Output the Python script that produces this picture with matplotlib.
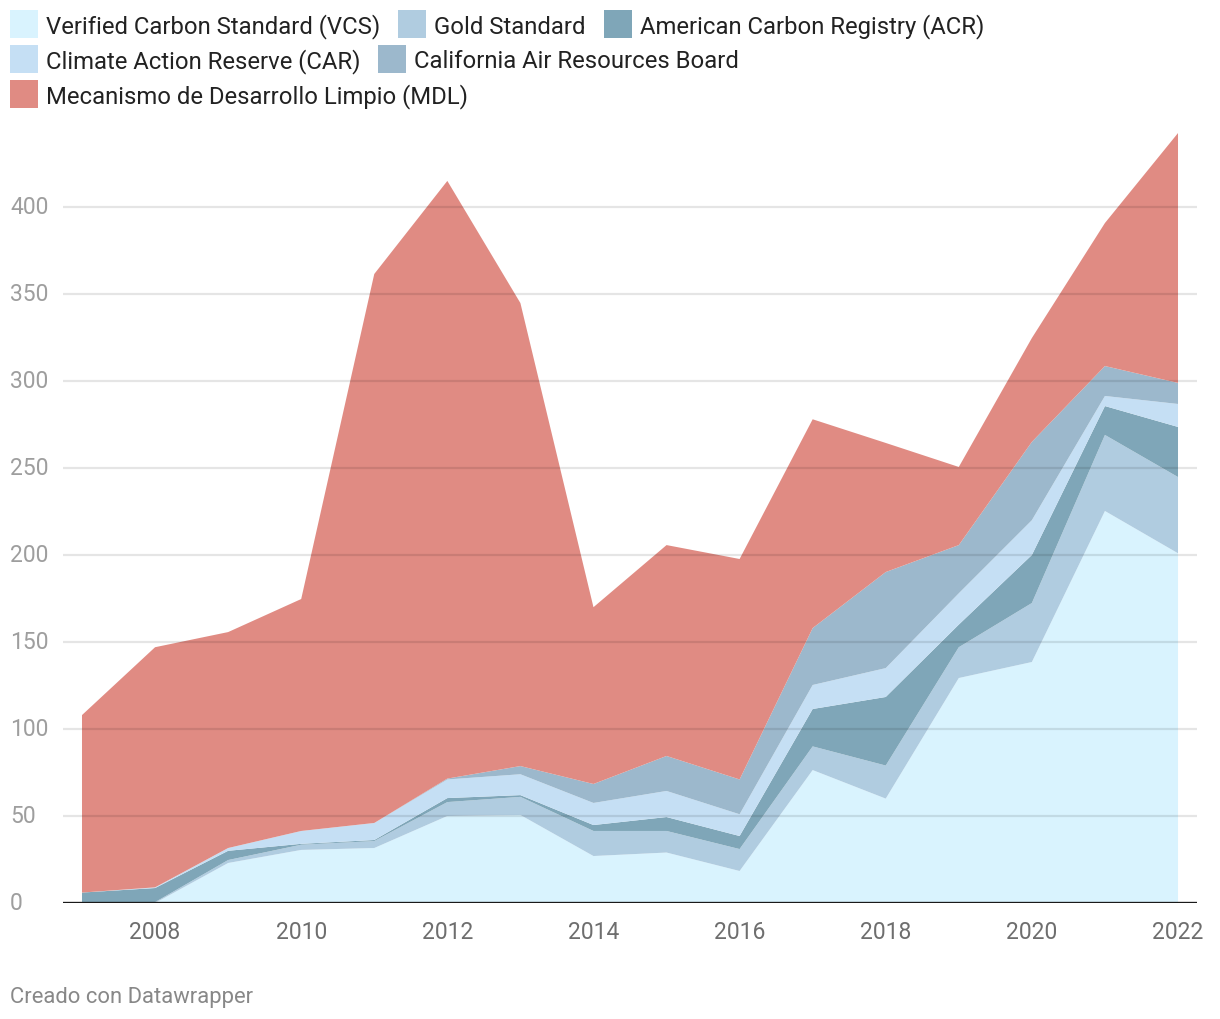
import matplotlib
matplotlib.use("Agg")
import matplotlib.pyplot as plt
import matplotlib.transforms as mtransforms
from matplotlib.patches import Rectangle
import numpy as np

plt.rcParams['font.family'] = ['Roboto', 'DejaVu Sans']

years = list(range(2007, 2023))
series_names = [
    "Verified Carbon Standard (VCS)",
    "Gold Standard",
    "American Carbon Registry (ACR)",
    "Climate Action Reserve (CAR)",
    "California Air Resources Board",
    "Mecanismo de Desarrollo Limpio (MDL)",
]
vcs = [0, 0, 23, 30.5, 31.6, 50, 50.6, 27, 29, 18.4, 76.4, 60, 129.3, 138.5, 225.3, 201]
gold = [0, 0.5, 1.7, 3, 4, 8, 10.4, 14.4, 12.4, 12.6, 13.6, 19, 17.7, 33.9, 43.7, 43.8]
acr = [6, 8.1, 5.3, 0.5, 0.6, 2.3, 1, 3.4, 8, 7.5, 21.5, 39.4, 13, 27.6, 16.6, 28.8]
car = [0, 0.4, 1.6, 7.4, 9.8, 10.7, 12, 12.7, 15, 12.5, 13.8, 16.6, 18, 20, 5.8, 13.2]
arb = [0, 0, 0, 0, 0, 0.5, 4.7, 10.9, 20.1, 20, 32.7, 55.2, 27.7, 45, 17.2, 12.1]
mdl = [102, 138, 124.1, 133.3, 315.5, 343.5, 266.1, 101.6, 121.2, 126.7, 120, 74.2, 44.9, 59.7, 82.2, 143.6]
colors = ['#d9f3fe', '#b0cce0', '#7fa6b8', '#c5dff4', '#9cb8cc', '#e08b83']
y_ticks = [0, 50, 100, 150, 200, 250, 300, 350, 400]
x_ticks = [2008, 2010, 2012, 2014, 2016, 2018, 2020, 2022]

W, H = 1220, 1020
fig = plt.figure(figsize=(W / 100, H / 100), dpi=100)
ax_left, ax_right, ax_bottom_px, ax_top_px = 63, 1197, 904, 121
ax = fig.add_axes([ax_left / W, (H - ax_bottom_px) / H, (ax_right - ax_left) / W,
                   (ax_bottom_px - ax_top_px) / H])

ax.stackplot(years, vcs, gold, acr, car, arb, mdl, colors=colors, linewidth=0, zorder=2)

ax.set_xlim(2006.74, 2022.26)
ax.set_ylim(0, 450)
for s in ax.spines.values():
    s.set_visible(False)

for t in y_ticks[1:]:
    ax.axhline(t, color='black', alpha=0.1, lw=1.6, zorder=4)
ax.axhline(0, color='#1a1a1a', lw=2.4, zorder=5)

ax.set_yticks([])
ax.set_xticks(x_ticks)
ax.set_xticklabels([str(x) for x in x_ticks], fontsize=16.5, color='#6e6e6e')
ax.tick_params(axis='x', length=0, pad=12)

ytrans = mtransforms.blended_transform_factory(fig.transFigure, ax.transData)
for t in y_ticks:
    ax.text(10 / W, t, str(t), transform=ytrans, ha='left', va='center',
            fontsize=16.5, color='#9e9e9e')

# Legend (flow layout)
fig.canvas.draw()
renderer = fig.canvas.get_renderer()
rows = [[0, 1, 2], [3, 4], [5]]
row_y = [25, 60, 95]
sq = 28
for r, idxs in zip(row_y, rows):
    x = 10
    for i in idxs:
        fig.patches.append(Rectangle((x / W, 1 - (r + sq / 2) / H), sq / W, sq / H,
                                     transform=fig.transFigure, facecolor=colors[i],
                                     edgecolor='none'))
        txt = fig.text((x + sq + 8) / W, 1 - (r + 2) / H, series_names[i], fontsize=17.2,
                       color='#222222', ha='left', va='center')
        bb = txt.get_window_extent(renderer)
        x = x + sq + 8 + bb.width + 18

fig.text(10 / W, 1 - 998 / H, "Creado con Datawrapper", fontsize=15.8, color='#888888',
         ha='left', va='center')

fig.savefig("out.png", dpi=100)
